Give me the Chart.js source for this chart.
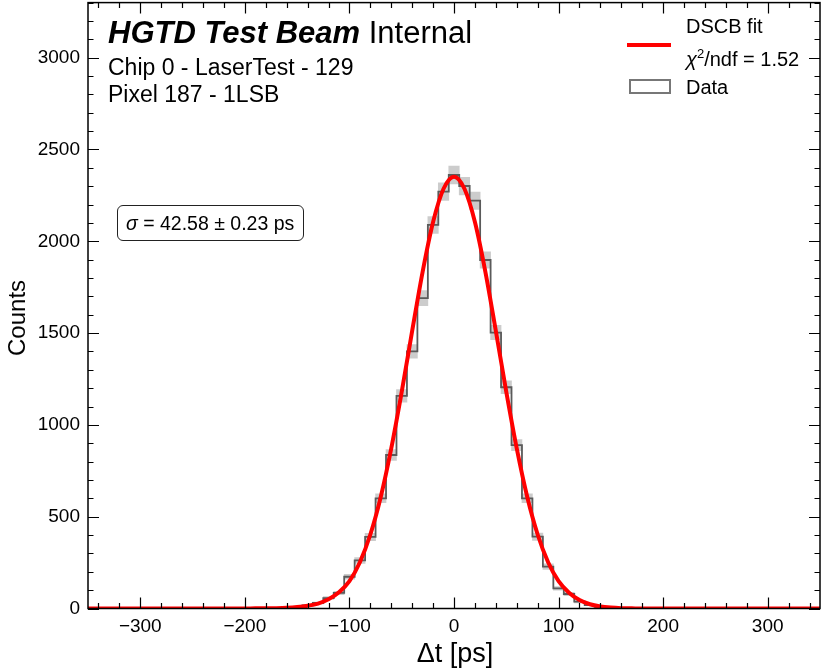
<!DOCTYPE html>
<html>
<head>
<meta charset="utf-8">
<script src="https://cdn.jsdelivr.net/npm/chart.js@4.4.1/dist/chart.umd.min.js"></script>
<style>
  body { margin: 0; background: #fff; }
  #wrap { position: relative; width: 823px; height: 672px; font-family: 'Liberation Sans', Arial, sans-serif; color: #000; }
  #wrap canvas { position: absolute; left: 0; top: 0; }
  .txt { position: absolute; white-space: nowrap; line-height: 1; }
</style>
</head>
<body>
<div id="wrap">
  <canvas id="histChart" width="823" height="672"></canvas>

  <div class="txt" style="left:108px; top:17px; font-size:31px;"><b><i>HGTD Test Beam</i></b> Internal</div>
  <div class="txt" style="left:108px; top:56px; font-size:23px;">Chip 0 - LaserTest - 129</div>
  <div class="txt" style="left:108px; top:83px; font-size:23px;">Pixel 187 - 1LSB</div>

  <div style="position:absolute; left:117px; top:205px; width:185px; height:34px; border:1.5px solid #222; border-radius:6px;"></div>
  <div class="txt" style="left:126px; top:214px; font-size:19.5px;"><i>σ</i> = 42.58 ± 0.23 ps</div>

  <div style="position:absolute; left:627px; top:42.5px; width:44px; height:4px; background:#ff0000;"></div>
  <div class="txt" style="left:686px; top:16px; font-size:20px;">DSCB fit</div>
  <div class="txt" style="left:686px; top:47px; font-size:20px;"><i>χ</i><sup style="font-size:13px; vertical-align:8px;">2</sup>/ndf = 1.52</div>
  <div style="position:absolute; left:629px; top:79px; width:38px; height:11px; border:2px solid #777;"></div>
  <div class="txt" style="left:686px; top:77px; font-size:20px;">Data</div>

  <div class="txt" style="left:455px; top:640px; font-size:27px; transform:translateX(-50%);">Δt [ps]</div>
  <div class="txt" style="left:17px; top:318px; font-size:24px; transform:translate(-50%,-50%) rotate(-90deg);">Counts</div>
</div>

<script>
// histogram bins (centres, ps) and counts
const binCenters = [-160, -150, -140, -130, -120, -110, -100, -90, -80, -70, -60, -50, -40, -30, -20, -10,
    0, 10, 20, 30, 40, 50, 60, 70, 80, 90, 100, 110, 120, 130, 140, 150, 160];
const counts = [0, 6, 17, 30, 57, 85, 173, 262, 390, 600, 836, 1158, 1400, 1690, 2089, 2270,
    2361, 2301, 2221, 1898, 1503, 1205, 890, 600, 391, 228, 110, 79, 37, 19, 6, 2, 0];
const errBars = [0, 2, 4, 5, 8, 9, 13, 16, 20, 24, 29, 34, 37, 41, 46, 48,
    49, 48, 47, 44, 39, 35, 30, 24, 20, 15, 10, 9, 6, 4, 2, 1, 0];

// DSCB fit curve
const fitX = [-350, -200, -190, -180, -170, -160, -150, -140, -130, -120, -110, -100, -90, -80, -70, -60, -50, -40, -30, -20, -10,
    0, 10, 20, 30, 40, 50, 60, 70, 80, 90, 100, 110, 120, 130, 140, 150, 160, 170, 180, 200, 350];
const fitY = [0, 0, 1, 1, 2, 4, 8, 15, 27, 50, 88, 149, 252, 403, 609, 872, 1180, 1512, 1834, 2105, 2286,
    2352, 2286, 2105, 1834, 1512, 1180, 872, 609, 403, 252, 149, 86, 46, 23, 11, 5, 2, 1, 0, 0, 0];

// axis ticks
const xTicks = [-300, -200, -100, 0, 100, 200, 300];
const yTicks = [0, 500, 1000, 1500, 2000, 2500, 3000];
const xMin = -350, xMax = 350, yMin = 0, yMax = 3300;

const errData = [];
binCenters.forEach((c, i) => {
    if (counts[i] > 0) errData.push({ x: c, y: [counts[i] - errBars[i], counts[i] + errBars[i]] });
});
const histData = binCenters.map((c, i) => ({ x: c, y: counts[i] }));
const fitData = fitX.map((v, i) => ({ x: v, y: fitY[i] }));

// frame + inward ticks on all four sides (mplhep style)
const frameTicks = {
    id: 'frameTicks',
    afterDatasetsDraw(chart) {
        const { ctx, chartArea: a, scales: { x, y } } = chart;
        ctx.save();
        ctx.strokeStyle = '#000';
        ctx.lineWidth = 1.2;
        ctx.beginPath();
        for (let v = -340; v <= 340; v += 20) {
            const major = xTicks.includes(v);
            const len = major ? 11 : 5.5;
            const px = Math.round(x.getPixelForValue(v)) + 0.5;
            ctx.moveTo(px, a.bottom); ctx.lineTo(px, a.bottom - len);
            ctx.moveTo(px, a.top); ctx.lineTo(px, a.top + len);
        }
        for (let v = 0; v <= 3300; v += 100) {
            const major = yTicks.includes(v);
            const len = major ? 11 : 5.5;
            const py = Math.round(y.getPixelForValue(v)) + 0.5;
            ctx.moveTo(a.left, py); ctx.lineTo(a.left + len, py);
            ctx.moveTo(a.right, py); ctx.lineTo(a.right - len, py);
        }
        ctx.stroke();
        ctx.lineWidth = 1.5;
        ctx.strokeRect(a.left, a.top, a.right - a.left, a.bottom - a.top);
        ctx.restore();
    }
};

const ctx = document.getElementById('histChart').getContext('2d');
new Chart(ctx, {
    data: {
        datasets: [
            {
                type: 'line',
                label: 'DSCB fit',
                data: fitData,
                borderColor: '#ff0000',
                borderWidth: 4,
                pointRadius: 0,
                cubicInterpolationMode: 'monotone',
                order: 0
            },
            {
                type: 'line',
                label: 'Data',
                data: histData,
                borderColor: '#5a5a5a',
                borderWidth: 1.8,
                pointRadius: 0,
                stepped: 'middle',
                order: 1
            },
            {
                type: 'bar',
                label: 'err',
                data: errData,
                backgroundColor: 'rgba(120,120,120,0.38)',
                borderWidth: 0,
                barPercentage: 1,
                categoryPercentage: 1,
                order: 2
            }
        ]
    },
    options: {
        responsive: false,
        animation: false,
        layout: { padding: { top: 2.6, right: 3, left: 0, bottom: 0 } },
        plugins: {
            legend: { display: false },
            tooltip: { enabled: false }
        },
        scales: {
            x: {
                type: 'linear',
                offset: false,
                min: xMin,
                max: xMax,
                grid: { display: false, drawTicks: false, offset: false },
                border: { display: false },
                afterBuildTicks: (scale) => { scale.ticks = xTicks.map(v => ({ value: v })); },
                afterFit: (scale) => {
                    scale.height = 63.5;
                    scale.paddingLeft = 0;
                    scale.paddingRight = 0;
                },
                ticks: {
                    padding: 7,
                    color: '#000',
                    maxRotation: 0,
                    font: { family: "'Liberation Sans', Arial, sans-serif", size: 19 },
                    callback: (v) => (v < 0 ? '\u2212' + Math.abs(v) : String(v))
                }
            },
            y: {
                type: 'linear',
                min: yMin,
                max: yMax,
                grid: { display: false, drawTicks: false },
                border: { display: false },
                afterBuildTicks: (scale) => { scale.ticks = yTicks.map(v => ({ value: v })); },
                afterFit: (scale) => {
                    scale.width = 88;
                    scale.paddingTop = 0;
                    scale.paddingBottom = 0;
                },
                ticks: {
                    padding: 8,
                    color: '#000',
                    font: { family: "'Liberation Sans', Arial, sans-serif", size: 19 },
                    callback: (v) => String(v)
                }
            }
        }
    },
    plugins: [frameTicks]
});
</script>
</body>
</html>
